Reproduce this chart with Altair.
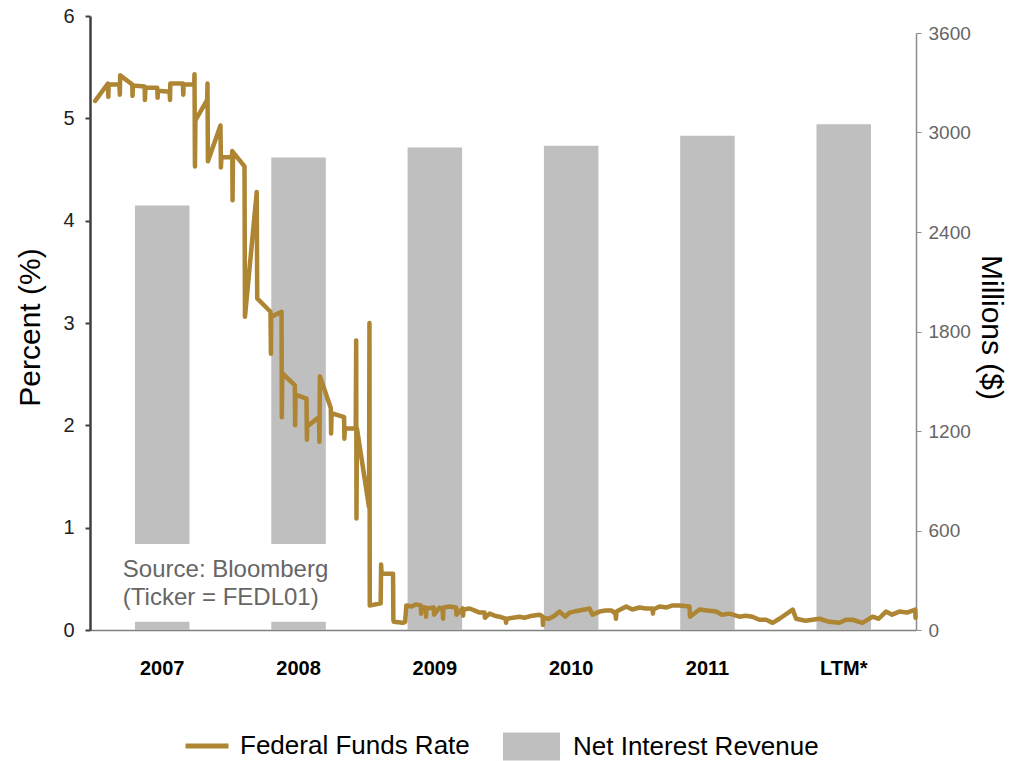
import altair as alt
import pandas as pd

# Net interest revenue by period (millions of dollars, right axis)
periods = ["2007", "2008", "2009", "2010", "2011", "LTM*"]
net_interest_revenue = [2560, 2850, 2910, 2920, 2980, 3050]

# Federal funds effective rate (percent, left axis), time in decimal years
rate_time = [
    2007.002, 2007.087, 2007.090, 2007.092, 2007.164, 2007.167, 2007.169,
    2007.250, 2007.252, 2007.255, 2007.333, 2007.335, 2007.338, 2007.417,
    2007.420, 2007.422, 2007.500, 2007.503, 2007.505, 2007.589, 2007.592,
    2007.594, 2007.665, 2007.667, 2007.670, 2007.673, 2007.752, 2007.754,
    2007.757, 2007.841, 2007.844, 2007.847, 2007.917, 2007.920, 2007.922,
    2007.925, 2008.002, 2008.005, 2008.084, 2008.087, 2008.176, 2008.179,
    2008.181, 2008.250, 2008.252, 2008.255, 2008.339, 2008.341, 2008.344,
    2008.417, 2008.420, 2008.422, 2008.501, 2008.504, 2008.507, 2008.580,
    2008.582, 2008.585, 2008.669, 2008.671, 2008.674, 2008.747, 2008.750,
    2008.752, 2008.755, 2008.836, 2008.839, 2008.841, 2008.914, 2008.917,
    2008.920, 2008.997, 2008.999,
    2009.002, 2009.062, 2009.078, 2009.086, 2009.122, 2009.149, 2009.183,
    2009.185, 2009.188, 2009.216, 2009.218, 2009.221, 2009.270, 2009.272,
    2009.309, 2009.329, 2009.332, 2009.335, 2009.376, 2009.420, 2009.422,
    2009.463, 2009.466, 2009.469, 2009.510, 2009.545, 2009.577, 2009.610,
    2009.612, 2009.644, 2009.677, 2009.710, 2009.751, 2009.754, 2009.758,
    2009.800, 2009.845, 2009.878, 2009.930, 2009.979, 2009.999,
    2010.001, 2010.004, 2010.040, 2010.079, 2010.112, 2010.150, 2010.179,
    2010.210, 2010.246, 2010.280, 2010.313, 2010.333, 2010.380, 2010.420,
    2010.461, 2010.487, 2010.490, 2010.494, 2010.559, 2010.600, 2010.648,
    2010.690, 2010.735, 2010.738, 2010.740, 2010.782, 2010.830, 2010.870,
    2010.916, 2010.983, 2010.986, 2011.050, 2011.100, 2011.161, 2011.200,
    2011.250, 2011.317, 2011.360, 2011.404, 2011.450, 2011.496, 2011.540,
    2011.585, 2011.674, 2011.697, 2011.760, 2011.853, 2011.920, 2011.987,
    2012.030, 2012.076, 2012.140, 2012.209, 2012.250, 2012.299, 2012.340,
    2012.388, 2012.440, 2012.495, 2012.497,
]
rate_pct = [
    5.17, 5.34, 5.21, 5.33, 5.33, 5.23, 5.42,
    5.33, 5.22, 5.32, 5.31, 5.18, 5.30, 5.30,
    5.20, 5.27, 5.26, 5.18, 5.34, 5.34, 5.23,
    5.33, 5.33, 5.43, 4.53, 4.98, 5.18, 5.34,
    4.58, 4.93, 4.52, 4.62, 4.62, 4.68, 4.20,
    4.67, 4.53, 3.06, 4.28, 3.24, 3.11, 2.70,
    3.06, 3.11, 2.08, 2.51, 2.39, 2.00, 2.30,
    2.26, 1.86, 1.99, 2.08, 1.84, 2.48, 2.17,
    1.92, 2.12, 2.08, 1.87, 1.97, 1.97, 2.83,
    1.09, 1.97, 1.20, 3.00, 0.24, 0.26, 0.64,
    0.55, 0.55, 0.10,
    0.08, 0.07, 0.08, 0.24, 0.23, 0.25, 0.24,
    0.16, 0.22, 0.22, 0.13, 0.21, 0.22, 0.15,
    0.22, 0.20, 0.11, 0.22, 0.23, 0.22, 0.15,
    0.21, 0.14, 0.20, 0.21, 0.19, 0.17, 0.17,
    0.12, 0.16, 0.14, 0.13, 0.11, 0.07, 0.11,
    0.12, 0.13, 0.12, 0.14, 0.15, 0.13,
    0.05, 0.12, 0.11, 0.14, 0.18, 0.13, 0.17,
    0.18, 0.19, 0.20, 0.21, 0.15, 0.18, 0.19,
    0.19, 0.16, 0.11, 0.18, 0.23, 0.20, 0.22,
    0.21, 0.21, 0.16, 0.20, 0.23, 0.22, 0.24,
    0.24, 0.23, 0.13, 0.20, 0.19, 0.18, 0.15,
    0.16, 0.13, 0.14, 0.13, 0.10, 0.10, 0.07,
    0.11, 0.20, 0.11, 0.09, 0.11, 0.08, 0.07,
    0.10, 0.10, 0.07, 0.13, 0.11, 0.18, 0.15,
    0.18, 0.17, 0.20, 0.12,
]

pct_ticks = [0, 1, 2, 3, 4, 5, 6]
millions_ticks = [0, 600, 1200, 1800, 2400, 3000, 3600]
source_lines = ["Source: Bloomberg", "(Ticker = FEDL01)"]

GOLD = "#AD8533"
GREY = "#BFBFBF"
SANS = "Liberation Sans, Arial, sans-serif"
W, H = 826, 614
TIME_DOMAIN = [2006.967, 2012.5]

bars_df = pd.DataFrame({"period": periods, "revenue": net_interest_revenue})
bars_df["series"] = "Net Interest Revenue"
rate_df = pd.DataFrame({"t": rate_time, "rate": rate_pct})
rate_df["series"] = "Federal Funds Rate"
one_row = pd.DataFrame({"k": [0]})

bars = alt.Chart(bars_df).mark_bar().encode(
    x=alt.X(
        "period:N", sort=periods,
        scale=alt.Scale(paddingInner=0.6, paddingOuter=0.33),
        axis=alt.Axis(
            title=None, orient="bottom", labelAngle=0, labelFont=SANS,
            labelFontWeight="bold", labelFontSize=20, labelColor="#000000",
            labelPadding=28, ticks=False, tickSize=0,
            domainColor="#808080", domainWidth=1.5,
        ),
    ),
    y=alt.Y(
        "revenue:Q",
        scale=alt.Scale(domain=[0, 3600], range=[H, 17], nice=False),
        axis=alt.Axis(
            orient="right", values=millions_ticks, format="d", grid=False,
            labelFont=SANS, labelFontSize=19, labelColor="#666666",
            labelPadding=7, tickSize=5, tickColor="#8C8C8C", domainColor="#8C8C8C",
            domainWidth=1.5, title="Millions ($)", titleFont=SANS,
            titleFontSize=30, titleFontWeight="normal", titleColor="#000000",
            titleAngle=90, titleX=74, titleY=311, titleAlign="center",
            titleBaseline="middle",
        ),
    ),
    color=alt.Color(
        "series:N",
        scale=alt.Scale(range=[GREY]),
        legend=alt.Legend(
            title=None, orient="none", legendX=413, legendY=702, padding=0,
            symbolType="M-1,-0.49H1V0.49H-1Z", symbolSize=3249,
            symbolStrokeWidth=0, labelFont=SANS, labelFontSize=26,
            labelColor="#000000", labelOffset=13, labelLimit=400,
        ),
    ),
)

# white backing panel for the source note
panel = alt.Chart(one_row).mark_rect(color="white").encode(
    x=alt.XDatum(2007.0, type="quantitative", axis=None,
                 scale=alt.Scale(domain=TIME_DOMAIN, nice=False, zero=False)),
    x2=alt.X2Datum(2008.85),
    y=alt.YDatum(0.08, type="quantitative"),
    y2=alt.Y2Datum(0.84),
)

note = alt.Chart(one_row).mark_text(
    text=source_lines, align="left", baseline="alphabetic", font=SANS,
    fontSize=24, color="#666666", lineHeight=28,
).encode(
    x=alt.XDatum(2007.187, type="quantitative", axis=None),
    y=alt.YDatum(0.518, type="quantitative"),
)

line = alt.Chart(rate_df).mark_line(
    strokeWidth=4.5, strokeCap="round", strokeJoin="round"
).encode(
    x=alt.X("t:Q", axis=None,
            scale=alt.Scale(domain=TIME_DOMAIN, nice=False, zero=False)),
    y=alt.Y(
        "rate:Q",
        scale=alt.Scale(domain=[0, 6], nice=False),
        axis=alt.Axis(
            orient="left", values=pct_ticks, format="d", grid=False,
            labelFont=SANS, labelFontSize=20, labelColor="#222222",
            labelPadding=11, tickSize=5, tickColor="#404040", tickWidth=2,
            domainColor="#404040", domainWidth=2.5, title="Percent (%)",
            titleFont=SANS, titleFontSize=30, titleFontWeight="normal",
            titleColor="#000000", titleAngle=270, titleX=-60, titleY=311,
            titleAlign="center", titleBaseline="middle",
        ),
    ),
    color=alt.Color(
        "series:N",
        scale=alt.Scale(range=[GOLD]),
        legend=alt.Legend(
            title=None, orient="none", legendX=93, legendY=706, padding=0,
            symbolType="stroke", symbolSize=1849, symbolStrokeWidth=5,
            labelFont=SANS, labelFontSize=26, labelColor="#000000",
            labelOffset=9, labelLimit=400,
        ),
    ),
    order="t:Q",
)

rate_group = alt.layer(panel, note, line)

chart = (
    alt.layer(bars, rate_group)
    .resolve_scale(x="independent", y="independent", color="independent")
    .properties(
        width=W, height=H,
        padding={"left": 90, "top": 16, "right": 97, "bottom": 131},
        autosize=alt.AutoSizeParams(type="none"),
        background="white",
    )
    .configure_view(stroke=None)
)

chart.save("out.html", embed_options={"renderer": "svg", "actions": False})
